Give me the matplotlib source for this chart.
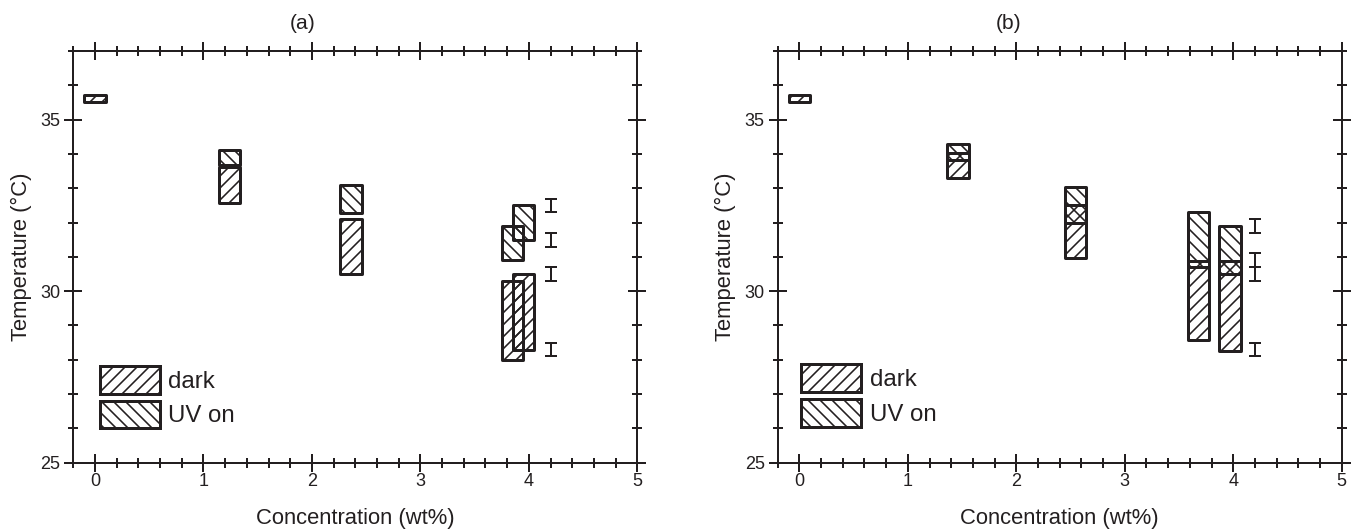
import matplotlib
matplotlib.use("Agg")
import matplotlib.pyplot as plt
from matplotlib.patches import Patch
from matplotlib.ticker import MultipleLocator

plt.rcParams['font.family'] = ['Liberation Sans', 'DejaVu Sans']
plt.rcParams['hatch.linewidth'] = 1.6

INK = '#231f20'

# ---------------- data ----------------
# panel (a)
a_dark_x = [0.0, 1.24, 2.36, 3.85, 3.95]
a_dark_low = [35.50, 32.58, 30.49, 27.99, 28.28]
a_dark_high = [35.71, 33.62, 32.11, 30.31, 30.51]
a_uv_x = [1.24, 2.36, 3.85, 3.95]
a_uv_low = [33.68, 32.29, 30.90, 31.49]
a_uv_high = [34.12, 33.10, 31.90, 32.50]
a_err_x = [4.2, 4.2, 4.2, 4.2]
a_err_y = [32.5, 31.5, 30.5, 28.3]

# panel (b)
b_dark_x = [0.0, 1.46, 2.545, 3.68, 3.97]
b_dark_low = [35.50, 33.29, 30.97, 28.58, 28.27]
b_dark_high = [35.71, 34.03, 32.52, 30.89, 30.89]
b_uv_x = [1.46, 2.545, 3.68, 3.97]
b_uv_low = [33.81, 31.98, 30.69, 30.49]
b_uv_high = [34.30, 33.03, 32.30, 31.91]
b_err_x = [4.2, 4.2, 4.2, 4.2]
b_err_y = [31.9, 30.9, 30.5, 28.3]

err_half = 0.2
box_width = 0.2
titles = ['(a)', '(b)']
legend_labels = ['dark', 'UV on']
xlabel = 'Concentration (wt%)'
ylabel = 'Temperature (°C)'

DPI = 72
fig = plt.figure(figsize=(1354 / DPI, 532 / DPI), dpi=DPI)

W, H = 1354.0, 532.0
ax_w = 564.0 / W
ax_b = 1 - 462.7 / H
ax_h = (462.7 - 51.0) / H
ax1 = fig.add_axes([73.3 / W, ax_b, ax_w, ax_h])
ax2 = fig.add_axes([777.7 / W, ax_b, ax_w, ax_h])

panels = [
    (ax1, a_dark_x, a_dark_low, a_dark_high, a_uv_x, a_uv_low, a_uv_high, a_err_x, a_err_y, 0.407, (0.047, 0.0835)),
    (ax2, b_dark_x, b_dark_low, b_dark_high, b_uv_x, b_uv_low, b_uv_high, b_err_x, b_err_y, 0.409, (0.042, 0.0876)),
]

LFS = 24
hh = 1.40

for i, (ax, dx, dl, dh, ux, ul, uh, ex, ey, tx, lg) in enumerate(panels):
    ax.bar(dx, [h - l for h, l in zip(dh, dl)], bottom=dl, width=box_width,
           fill=False, hatch='//', edgecolor=INK, linewidth=3, joinstyle='round')
    ax.bar(ux, [h - l for h, l in zip(uh, ul)], bottom=ul, width=box_width,
           fill=False, hatch='\\\\', edgecolor=INK, linewidth=3, joinstyle='round')
    ax.errorbar(ex, ey, yerr=err_half, fmt='none', ecolor=INK, elinewidth=2,
                capsize=6, capthick=2)

    ax.set_xlim(-0.2, 5)
    ax.set_ylim(25, 37)
    ax.xaxis.set_major_locator(MultipleLocator(1))
    ax.xaxis.set_minor_locator(MultipleLocator(0.2))
    ax.yaxis.set_major_locator(MultipleLocator(5))
    ax.yaxis.set_minor_locator(MultipleLocator(1))
    ax.tick_params(which='both', direction='inout', top=True, right=True,
                   width=2, color=INK, labelcolor=INK, labelsize=18)
    ax.tick_params(which='major', length=18)
    ax.tick_params(which='minor', length=10)
    ax.tick_params(axis='x', which='major', pad=1)
    ax.tick_params(axis='y', which='major', pad=4)
    for s in ax.spines.values():
        s.set_linewidth(2)
        s.set_color(INK)

    ax.set_xlabel(xlabel, fontsize=22, color=INK)
    ax.xaxis.set_label_coords(0.5, (462.7 - 508) / 411.7)
    ax.set_ylabel(ylabel, fontsize=22, color=INK)
    ax.yaxis.set_label_coords((32 - 73.3) / 564, 0.5)
    ax.text(tx, 1 + (51 - 23.3) / 411.7, titles[i], transform=ax.transAxes,
            ha='center', va='center', fontsize=21, color=INK)

    handles = [Patch(facecolor='none', edgecolor=INK, hatch='//', linewidth=3, label=legend_labels[0]),
               Patch(facecolor='none', edgecolor=INK, hatch='\\\\', linewidth=3, label=legend_labels[1])]
    ax.legend(handles=handles, loc='lower left', bbox_to_anchor=lg, frameon=False,
              fontsize=LFS, handlelength=2.5, handleheight=hh,
              handletextpad=0.35, labelspacing=0.29, borderpad=0, borderaxespad=0,
              labelcolor=INK)

fig.savefig('out.png', dpi=DPI)
